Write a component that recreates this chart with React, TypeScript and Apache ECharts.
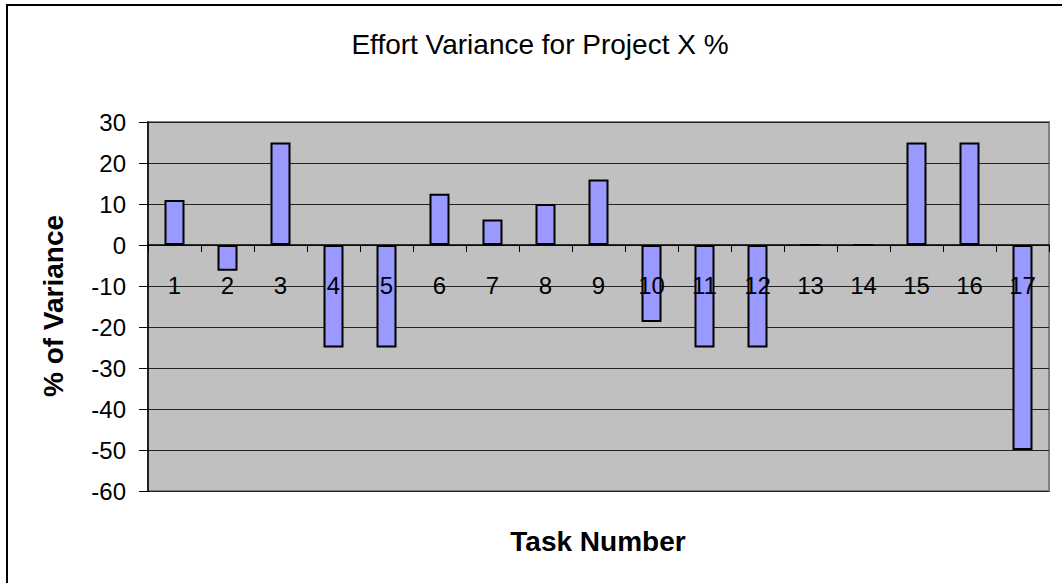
import React, { useEffect, useRef } from "react";
import * as echarts from "echarts";

const categories = ["1", "2", "3", "4", "5", "6", "7", "8", "9", "10", "11", "12", "13", "14", "15", "16", "17"];
const variance = [11, -6.25, 25, -25, -25, 12.5, 6.25, 10, 16, -18.75, -25, -25, 0, 0, 25, 25, -50];
const titleText = "Effort Variance for Project X %";
const xName = "Task Number";
const yName = "% of Variance";

const FONT = "'Liberation Sans', Arial, sans-serif";

const Y_MIN = -60;
const Y_MAX = 30;
const GRID_TOP = 122;
const GRID_BOTTOM = 92;
const H = 583;

export default function App() {
  const ref = useRef<HTMLDivElement>(null);
  useEffect(() => {
    if (!ref.current) return;
    const chart = echarts.init(ref.current, null, { renderer: "svg" });
    const plotH = H - GRID_TOP - GRID_BOTTOM;
    const zeroOffset = -(plotH * (0 - Y_MIN)) / (Y_MAX - Y_MIN);
    chart.setOption({
      animation: false,
      backgroundColor: "#ffffff",
      textStyle: { fontFamily: FONT },
      grid: {
        left: 148,
        right: 13,
        top: GRID_TOP,
        bottom: GRID_BOTTOM,
        show: true,
        backgroundColor: "#C0C0C0",
        borderColor: "#808080",
        borderWidth: 2,
      },
      xAxis: {
        type: "category",
        data: categories,
        z: 10,
        offset: zeroOffset,
        axisLine: { onZero: false, lineStyle: { color: "#000", width: 1.5 } },
        axisTick: { show: true, length: 7, lineStyle: { color: "#000" } },
        axisLabel: { color: "#000", fontSize: 24, fontFamily: FONT, margin: 28, interval: 0 },
        splitLine: { show: false },
      },
      yAxis: {
        type: "value",
        min: Y_MIN,
        max: Y_MAX,
        interval: 10,
        axisLine: { show: true, lineStyle: { color: "#000", width: 1.5 } },
        axisTick: { show: true, length: 9, lineStyle: { color: "#000" } },
        axisLabel: { color: "#000", fontSize: 24, fontFamily: FONT, margin: 22 },
        splitLine: { show: true, lineStyle: { color: "#222", width: 1 } },
      },
      series: [
        {
          type: "bar",
          data: variance,
          barWidth: 20,
          itemStyle: { color: "#9999FF", borderColor: "#000", borderWidth: 2 },
        },
      ],
      graphic: [
        {
          type: "rect",
          shape: { x: 7, y: 5, width: 1100, height: 700 },
          style: { fill: "none", stroke: "#000", lineWidth: 2 },
          silent: true,
        },
        {
          type: "text",
          x: 540,
          y: 44,
          style: {
            text: titleText,
            font: `28px ${FONT}`,
            fill: "#000",
            textAlign: "center",
            textVerticalAlign: "middle",
          },
        },
        {
          type: "text",
          x: 598,
          y: 541,
          style: {
            text: xName,
            font: `bold 28px ${FONT}`,
            fill: "#000",
            textAlign: "center",
            textVerticalAlign: "middle",
          },
        },
        {
          type: "text",
          x: 53,
          y: 306,
          rotation: Math.PI / 2,
          style: {
            text: yName,
            font: `bold 28px ${FONT}`,
            fill: "#000",
            textAlign: "center",
            textVerticalAlign: "middle",
          },
        },
      ],
    });
    return () => chart.dispose();
  }, []);
  return (
    <div
      ref={ref}
      style={{ position: "fixed", left: 0, top: 0, width: 1062, height: 583 }}
    />
  );
}
